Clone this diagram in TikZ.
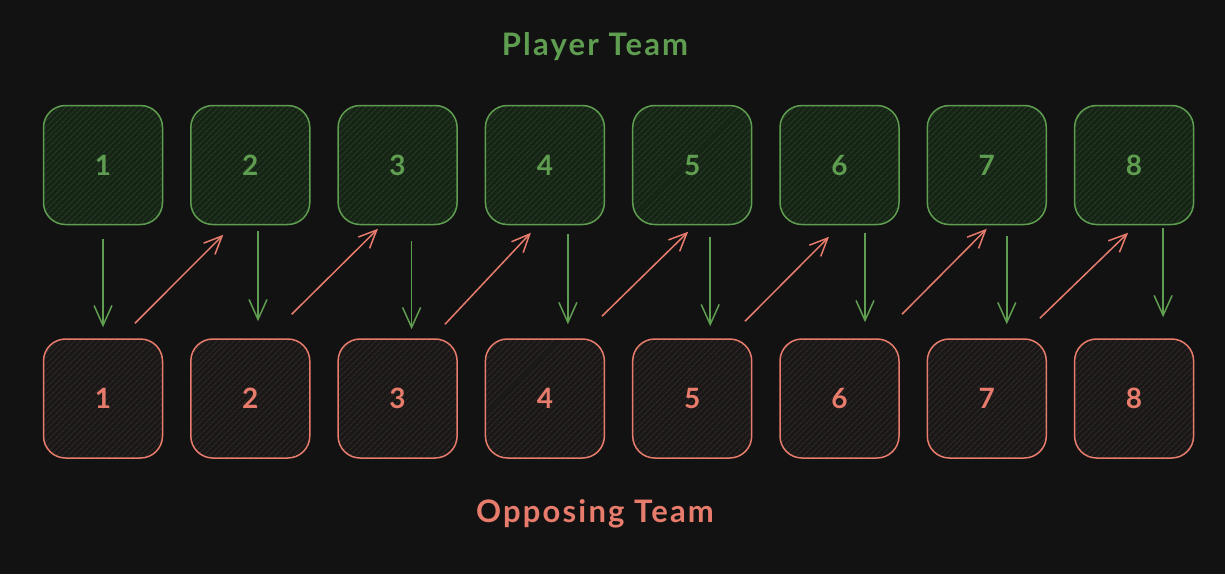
\documentclass[tikz,border=0pt]{standalone}
\usepackage{fontspec}
\setmainfont{Lato}
\usetikzlibrary{arrows.meta,patterns.meta}
\definecolor{bg}{RGB}{18,18,18}
\definecolor{pgreen}{RGB}{95,158,80}
\definecolor{gfill}{RGB}{22,36,22}
\definecolor{ghatch}{RGB}{38,60,36}
\definecolor{pred}{RGB}{232,124,108}
\definecolor{rfill}{RGB}{26,23,23}
\definecolor{rhatch}{RGB}{50,41,41}
\tikzset{
  box/.style={rounded corners=22pt, minimum width=119pt, minimum height=119pt,
    line width=1.5pt, font=\fontsize{28}{28}\selectfont\bfseries, inner sep=0pt},
  gbox/.style={box, draw=pgreen, text=pgreen, preaction={fill=gfill},
    pattern={Lines[angle=45,distance=4pt,line width=1.1pt]}, pattern color=ghatch},
  rbox/.style={box, draw=pred, text=pred, preaction={fill=rfill},
    pattern={Lines[angle=45,distance=4pt,line width=1.1pt]}, pattern color=rhatch},
  garr/.style={draw=pgreen, line width=1.5pt, -{Straight Barb[length=20pt,width=18pt,line width=1.5pt]}},
  rarr/.style={draw=pred, line width=1.5pt, -{Straight Barb[length=18pt,width=16pt,line width=1.5pt]}},
  title/.style={font=\fontsize{31}{31}\selectfont\bfseries\addfontfeature{LetterSpace=7}}
}
\begin{document}
\begin{tikzpicture}[x=1pt,y=-1pt]
\useasboundingbox[fill=bg] (0,0) rectangle (1225,574);
\node[title, text=pgreen] (pt) at (595,47) {Player Team};
\node[title, text=pred] (ot) at (595,514) {Opposing Team};
\foreach \i/\x in {1/103,2/250.3,3/397.6,4/544.9,5/692.2,6/839.5,7/986.8,8/1134.1}{
  \node[gbox] (t\i) at (\x,165) {\i};
  \node[rbox] (b\i) at (\x,398.5) {\i};
}
% down arrows
\draw[garr] ([xshift=0pt,yshift=-13.5pt]t1.south) -- ([xshift=0pt,yshift=11pt]b1.north);
\draw[garr] ([xshift=7.7pt,yshift=-5.5pt]t2.south) -- ([xshift=7.7pt,yshift=17pt]b2.north);
\draw[garr] ([xshift=14pt,yshift=-15.5pt]t3.south) -- ([xshift=14pt,yshift=9pt]b3.north);
\draw[garr] ([xshift=23pt,yshift=-8.5pt]t4.south) -- ([xshift=23pt,yshift=14pt]b4.north);
\draw[garr] ([xshift=18pt,yshift=-11.5pt]t5.south) -- ([xshift=18pt,yshift=12pt]b5.north);
\draw[garr] ([xshift=25.5pt,yshift=-7.5pt]t6.south) -- ([xshift=25.5pt,yshift=16pt]b6.north);
\draw[garr] ([xshift=20pt,yshift=-10.5pt]t7.south) -- ([xshift=20pt,yshift=14pt]b7.north);
\draw[garr] ([xshift=29pt,yshift=-2.5pt]t8.south) -- ([xshift=29pt,yshift=21pt]b8.north);
% diagonal arrows
\draw[rarr] ([xshift=32pt,yshift=15pt]b1.north) -- ([xshift=-27pt,yshift=-9.5pt]t2.south);
\draw[rarr] ([xshift=41.4pt,yshift=24pt]b2.north) -- ([xshift=-19.6pt,yshift=-3.5pt]t3.south);
\draw[rarr] ([xshift=47.4pt,yshift=14pt]b3.north) -- ([xshift=-14pt,yshift=-7.5pt]t4.south);
\draw[rarr] ([xshift=57pt,yshift=22pt]b4.north) -- ([xshift=-4pt,yshift=-6.5pt]t5.south);
\draw[rarr] ([xshift=52.8pt,yshift=17pt]b5.north) -- ([xshift=-10.5pt,yshift=-11.5pt]t6.south);
\draw[rarr] ([xshift=62.5pt,yshift=24pt]b6.north) -- ([xshift=0pt,yshift=-3.5pt]t7.south);
\draw[rarr] ([xshift=53pt,yshift=20pt]b7.north) -- ([xshift=-6pt,yshift=-7.5pt]t8.south);
\end{tikzpicture}
\end{document}
